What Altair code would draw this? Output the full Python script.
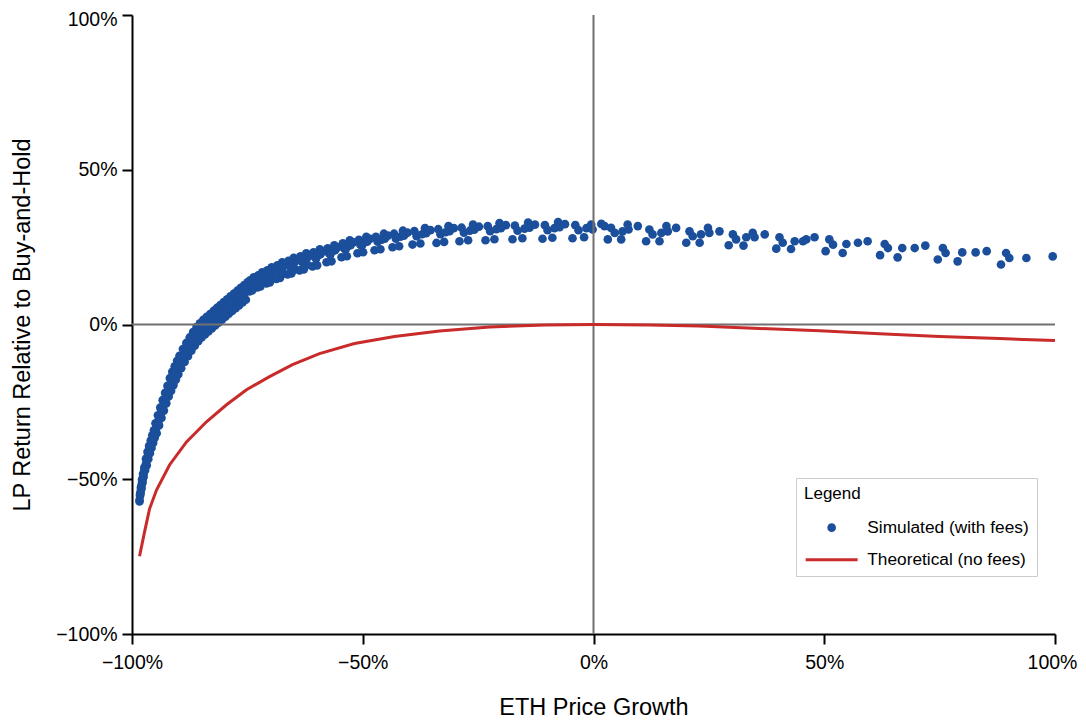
import altair as alt
import pandas as pd

SIM = "Simulated (with fees)"
THEO = "Theoretical (no fees)"
BLUE = "#1b4f9b"
RED = "#c92a2a"
GRAY = "#707070"
FONT = "Liberation Sans, Arial, Helvetica, sans-serif"

# ---- simulated LP returns (x: ETH price growth %, y: LP return vs buy-and-hold %) ----
sim_x = [
    -98.37, -98.26, -98.15, -98.05, -97.94, -97.83, -97.72, -97.61, -97.50, -97.33,
    -97.16, -96.98, -96.81, -96.64, -96.46, -96.29, -96.12, -95.94, -95.77, -95.60,
    -95.42, -95.25, -95.08, -94.91, -94.65, -94.39, -94.13, -93.87, -93.61, -93.35,
    -93.09, -92.83, -92.57, -92.31, -92.05, -91.79, -91.53, -91.27, -91.01, -90.75,
    -90.49, -90.23, -89.97, -89.71, -89.34, -88.97, -88.60, -88.23, -87.87, -87.50,
    -87.13, -86.76, -86.39, -86.02, -85.65, -85.28, -84.91, -84.55, -84.18, -83.81,
    -83.44, -83.07, -82.70, -82.33, -81.97, -81.60, -81.23, -80.86, -80.49, -80.12,
    -79.75, -79.38, -79.02, -78.65, -78.28, -77.91, -77.54, -77.17, -76.80, -76.43,
    -76.06, -75.69, -75.33, -74.96,
    # band centre
    -98.37, -98.26, -98.15, -98.05, -97.94, -97.83, -97.72, -97.61, -97.50, -97.33,
    -97.16, -96.98, -96.81, -96.64, -96.46, -96.29, -96.12, -95.94, -95.77, -95.60,
    -95.42, -95.25, -95.08, -94.91, -94.65, -94.39, -94.13, -93.87, -93.61, -93.35,
    -93.09, -92.83, -92.57, -92.31, -92.05, -91.79, -91.53, -91.27, -91.01, -90.75,
    -90.49, -90.23, -89.97, -89.71, -89.34, -88.97, -88.60, -88.23, -87.87, -87.50,
    -87.13, -86.76, -86.39, -86.02, -85.65, -85.28, -84.91, -84.55, -84.18, -83.81,
    -83.44, -83.07, -82.70, -82.33, -81.97, -81.60, -81.23, -80.86, -80.49, -80.12,
    -79.75, -79.38, -79.02, -78.65, -78.28, -77.91, -77.54, -77.17, -76.80, -76.43,
    -76.06, -75.69, -75.33, -74.96,
    # clusters
    -74.54, -74.41, -74.23, -73.97, -73.84, -73.63, -73.54, -73.24, -74.10, -73.50,
    -72.80, -72.65, -72.48, -72.15, -72.02, -71.79, -71.70, -71.33, -72.32, -71.63,
    -70.85, -70.68, -70.49, -70.14, -69.99, -69.73, -69.62, -69.23, -70.31, -69.55,
    -68.69, -68.49, -68.28, -67.91, -67.73, -67.45, -67.32, -66.89, -68.09, -67.26,
    -66.30, -66.09, -65.87, -65.44, -65.26, -64.96, -64.83, -64.35, -65.65, -64.74,
    -63.70, -63.49, -63.23, -62.77, -62.58, -62.23, -62.10, -61.58, -63.00, -62.01,
    -60.89, -60.65, -60.37, -59.89, -59.67, -59.30, -59.15, -58.61, -60.13,
    -57.85, -57.59, -57.29, -56.77, -56.55, -56.16, -55.99, -55.40, -57.04,
    -54.60, -54.32, -54.02, -53.45, -53.22, -52.81, -52.63, -52.00, -53.74,
    -51.14, -50.83, -50.51, -49.92, -49.66, -49.23, -49.03, -48.36, -50.22,
    -47.45, -47.15, -46.78, -46.17, -45.89, -45.42, -45.22, -44.53,
    -43.55, -43.21, -42.82, -42.12, -41.82, -41.30, -41.08, -40.30,
    -39.22, -38.81, -38.33, -37.51, -37.14, -36.51, -36.25, -35.32,
    -34.02, -33.63, -33.17, -32.37, -32.03, -31.42, -31.18, -30.27,
    -29.04, -28.58, -28.08, -27.17, -26.78, -26.11, -25.83, -24.81,
    -23.40, -22.92, -22.40, -21.47, -21.06, -20.37, -20.06, -19.00,
    -17.55, -17.03, -16.45, -15.41, -14.95, -14.17, -13.85, -12.68,
    -11.05, -10.53, -9.95, -8.91, -8.45, -7.67, -7.35, -6.18,
    -4.55, -3.94, -3.25, -2.04, -1.52,
    -0.50, -0.20, 1.70, 2.40, 3.80, 4.60, 3.10, 6.00, 6.30, 7.40,
    7.60, 9.60, 12.10, 12.80, 11.40, 14.30, 14.70, 15.80, 16.10, 17.90,
    20.80, 21.50, 20.10, 23.00, 23.30, 24.80, 25.10, 27.30, 30.20, 30.90,
    29.30, 32.50, 33.10, 34.50, 34.90, 37.10, 40.30, 41.00, 39.60, 42.80,
    43.60, 45.40, 46.10, 47.90, 51.10, 51.90, 50.30, 54.00, 54.80, 57.30,
    59.40, 63.10, 63.80, 62.10, 65.90, 66.90, 69.60, 71.90, 75.70, 76.30,
    74.60, 78.90, 79.90, 82.80, 85.20, 89.40, 90.10, 88.30, 93.80, 99.50,
]
sim_y = [
    -57.20, -54.94, -54.62, -52.59, -53.00, -50.11, -51.15, -48.23, -49.30, -46.26,
    -47.07, -43.37, -45.51, -41.17, -43.44, -39.22, -41.56, -37.50, -39.90, -35.82,
    -38.25, -34.20, -36.63, -31.90, -35.14, -29.34, -32.61, -26.87, -30.18, -24.44,
    -27.81, -22.11, -25.48, -19.84, -23.27, -17.34, -21.43, -15.30, -19.58, -13.48,
    -17.80, -11.73, -16.11, -10.11, -14.13, -7.94, -12.12, -5.96, -10.24, -4.18,
    -8.49, -2.46, -6.84, -0.81, -5.41, 0.39, -4.21, 1.52, -3.21, 2.46,
    -2.27, 3.40, -1.30, 4.38, -0.32, 5.35, 0.62, 6.29, 1.59, 7.23,
    2.53, 8.17, 3.47, 9.11, 4.41, 10.02, 5.28, 10.92, 6.19, 11.83,
    7.10, 12.74, 8.01, 13.61,
    # band centre
    -56.71, -55.43, -54.13, -53.08, -52.03, -51.08, -50.18, -49.20, -48.33, -47.23,
    -46.10, -44.99, -43.89, -42.79, -41.82, -40.84, -39.94, -39.12, -38.28, -37.44,
    -36.63, -35.82, -35.01, -34.17, -32.87, -31.61, -30.34, -29.14, -27.91, -26.71,
    -25.54, -24.38, -23.21, -22.11, -21.00, -19.93, -18.84, -17.89, -16.99, -16.07,
    -15.21, -14.32, -13.52, -12.70, -11.54, -10.53, -9.53, -8.55, -7.65, -6.77,
    -5.90, -5.05, -4.25, -3.40, -2.82, -2.20, -1.62, -1.07, -0.62, -0.13,
    0.32, 0.81, 1.29, 1.79, 2.27, 2.76, 3.21, 3.70, 4.18, 4.64,
    5.12, 5.58, 6.06, 6.52, 7.00, 7.43, 7.87, 8.33, 8.78, 9.24,
    9.69, 10.15, 10.60, 11.02,
    # clusters
    10.70, 14.26, 12.64, 11.02, 13.29, 15.24, 13.61, 14.59, 12.64, 11.99,
    11.99, 15.88, 14.26, 12.32, 14.91, 16.86, 15.24, 16.21, 14.10, 13.45,
    13.29, 17.50, 15.88, 13.61, 16.53, 18.48, 16.86, 17.83, 15.56, 14.91,
    14.75, 19.12, 17.50, 15.07, 18.15, 20.10, 18.48, 19.45, 17.10, 16.45,
    16.21, 20.58, 18.96, 16.53, 19.61, 21.56, 19.94, 20.91, 18.56, 17.91,
    17.50, 22.04, 20.42, 17.83, 21.07, 23.01, 21.39, 22.37, 19.94, 19.29,
    18.80, 23.34, 21.72, 19.12, 22.37, 24.31, 22.69, 23.66, 21.23,
    20.10, 24.64, 23.01, 20.42, 23.66, 25.61, 23.99, 24.96, 22.53,
    21.72, 26.26, 24.64, 22.04, 25.28, 27.23, 25.61, 26.58, 24.15,
    23.01, 27.39, 25.77, 23.34, 26.42, 28.36, 26.74, 27.71, 25.36,
    23.99, 28.36, 26.74, 24.31, 27.39, 29.34, 27.71, 28.69,
    24.96, 29.34, 27.71, 25.28, 28.36, 30.31, 28.69, 29.66,
    25.83, 30.15, 28.53, 26.16, 29.17, 31.12, 29.50, 30.47,
    26.35, 30.79, 29.17, 26.68, 29.82, 31.77, 30.15, 31.12,
    26.90, 31.28, 29.66, 27.23, 30.31, 32.25, 30.63, 31.60,
    27.23, 31.77, 30.15, 27.55, 30.79, 32.74, 31.12, 32.09,
    27.55, 31.93, 30.31, 27.88, 30.96, 32.90, 31.28, 32.25,
    27.71, 32.09, 30.47, 28.04, 31.12, 33.06, 31.44, 32.42,
    27.88, 32.09, 30.47, 28.20, 31.12,
    32.30, 30.70, 32.50, 31.80, 31.20, 29.60, 27.50, 27.50, 30.10, 32.30,
    30.70, 31.80, 30.70, 29.10, 26.90, 26.90, 29.60, 31.80, 30.10, 31.20,
    30.10, 28.50, 26.40, 26.40, 29.10, 31.20, 29.60, 30.10, 29.10, 27.50,
    25.60, 25.50, 28.20, 29.60, 28.20, 29.10, 28.20, 26.40, 24.50, 24.40,
    26.90, 26.90, 27.50, 28.20, 27.50, 25.80, 23.70, 23.10, 26.00, 26.40,
    26.90, 26.00, 24.70, 22.40, 21.70, 24.70, 24.70, 25.50, 24.70, 23.10,
    21.00, 20.40, 23.30, 23.30, 23.70, 23.10, 21.50, 19.40, 21.50, 22.00,
]

# ---- theoretical impermanent loss (no fees) ----
theo_x = [-98.37, -97.29, -96.21, -94.69, -91.87, -88.19, -83.86, -79.52, -75.19,
          -70.20, -65.22, -59.37, -51.79, -43.12, -33.37, -22.53, -10.62, 0.0,
          12.13, 22.97, 35.97, 48.97, 61.97, 74.97, 87.97, 100.0]
theo_y = [-74.88, -67.10, -59.64, -53.48, -45.38, -37.93, -31.44, -25.93, -21.07,
          -16.86, -12.97, -9.40, -6.16, -3.89, -2.11, -0.81, -0.16, 0.0,
          -0.16, -0.49, -1.30, -2.00, -3.00, -3.89, -4.54, -5.19]

tick_vals = [-1, -0.5, 0, 0.5, 1]
series_domain = [SIM, THEO]

sim_df = pd.DataFrame({"growth": [v / 100 for v in sim_x],
                       "ret": [v / 100 for v in sim_y],
                       "series": SIM})
theo_df = pd.DataFrame({"growth": [v / 100 for v in theo_x],
                        "ret": [v / 100 for v in theo_y],
                        "series": THEO})
zero_df = pd.DataFrame({"growth": [0.0], "ret": [0.0]})

xscale = alt.Scale(domain=[-1, 1], nice=False, zero=False)
yscale = alt.Scale(domain=[-1, 1], nice=False, zero=False)

axis_common = dict(
    values=tick_vals, format=".0%", grid=False, labelFlush=False, labelOverlap=False,
    domainColor="black", domainWidth=2, tickColor="black", tickWidth=2, tickSize=10,
    labelFont=FONT, labelFontSize=19.5, labelColor="black",
    titleFont=FONT, titleFontSize=23.5, titleFontWeight="normal", titleColor="black",
)
xaxis = alt.Axis(
    title="ETH Price Growth", labelPadding=9, titlePadding=24,
    labelOffset={"condition": {"test": "datum.value === 1", "value": -3}, "value": 0},
    **axis_common)
yaxis = alt.Axis(
    title="LP Return Relative to Buy-and-Hold", labelPadding=5, titlePadding=21,
    labelOffset={"condition": {"test": "datum.value === 1", "value": 4.5}, "value": 0},
    **axis_common)

X = alt.X("growth:Q", scale=xscale, axis=xaxis)
Y = alt.Y("ret:Q", scale=yscale, axis=yaxis)

leg = alt.Legend(
    title="Legend", orient="none", legendX=664, legendY=463, direction="vertical",
    padding=8, strokeColor="#cccccc", fillColor="white", cornerRadius=0,
    titleFont=FONT, titleFontSize=17, titleFontWeight="normal", titleColor="black",
    titlePadding=16, labelFont=FONT, labelFontSize=17.3, labelColor="black",
    labelLimit=400, symbolSize=75, symbolOffset=19, labelOffset=27, rowPadding=12,
    symbolStrokeWidth=3, symbolOpacity=1,
)
fill_scale = alt.Scale(domain=series_domain, range=[BLUE, RED])
stroke_scale = alt.Scale(domain=series_domain, range=["transparent", RED])
shape_scale = alt.Scale(domain=series_domain, range=["circle", "M-6,0H6"])

points = alt.Chart(sim_df).mark_point(
    filled=True, opacity=1, strokeWidth=0, size=75
).encode(
    x=X, y=Y,
    fill=alt.Fill("series:N", scale=fill_scale, legend=leg),
    stroke=alt.Stroke("series:N", scale=stroke_scale, legend=leg),
    shape=alt.Shape("series:N", scale=shape_scale, legend=leg),
)

zero_h = alt.Chart(zero_df).mark_rule(color=GRAY, strokeWidth=2).encode(y=Y)
zero_v = alt.Chart(zero_df).mark_rule(color=GRAY, strokeWidth=2).encode(x=X)

line = alt.Chart(theo_df).mark_line(strokeWidth=3).encode(
    x=X, y=Y,
    stroke=alt.Stroke("series:N", scale=stroke_scale, legend=leg),
)

chart = alt.layer(points, zero_h, zero_v, line).properties(
    width=923, height=619,
    autosize=alt.AutoSizeParams(type="none"),
    padding={"left": 124, "top": 7, "right": 23, "bottom": 90},
).configure_view(stroke=None)

chart.save("out.html", embed_options={"renderer": "svg", "actions": False})
